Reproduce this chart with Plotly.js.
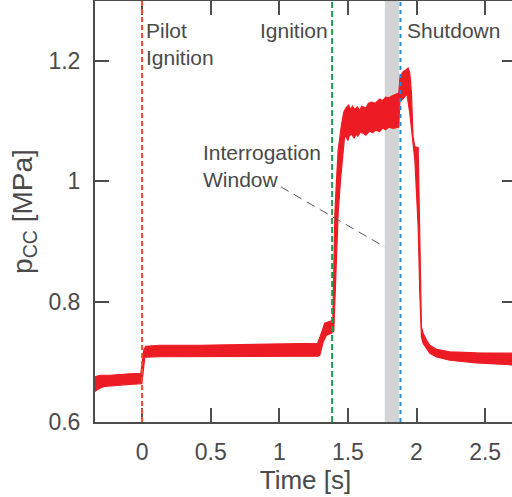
<!DOCTYPE html>
<html>
<head>
<meta charset="utf-8">
<script src="https://cdn.plot.ly/plotly-3.0.1.min.js"></script>
<style>
html, body { margin: 0; padding: 0; overflow: hidden; background: #fff; }
#chart { width: 520px; height: 497px; }
</style>
</head>
<body>
<div id="chart"></div>
<script>
// Upper envelope of the noisy chamber-pressure record (time [s], p_CC [MPa])
const tUpper = [-0.35, -0.308, -0.235, -0.162, -0.090, -0.009, 0.012, 0.027, 0.129, 0.420, 0.712, 1.003, 1.280,
  1.309, 1.331, 1.390, 1.405, 1.417, 1.429, 1.453, 1.470, 1.485, 1.505, 1.520, 1.533, 1.550, 1.570, 1.586, 1.600,
  1.631, 1.650, 1.674, 1.700, 1.732, 1.750, 1.776, 1.800, 1.820, 1.845,
  1.871, 1.879, 1.900, 1.922, 1.939, 1.951, 1.963, 1.975, 1.988, 2.012, 2.024, 2.036, 2.048, 2.073, 2.097, 2.146,
  2.243, 2.437, 2.75];
const pUpper = [0.6744, 0.6777, 0.6777, 0.6794, 0.6802, 0.6810, 0.7193, 0.7260, 0.7276, 0.7276, 0.7285, 0.7293, 0.7309,
  0.7493, 0.7642, 0.7692, 0.9472, 1.0022, 1.0521, 1.0937, 1.1153, 1.1220, 1.1270, 1.1190, 1.1253, 1.1200, 1.1240, 1.1180, 1.1250,
  1.1220, 1.1300, 1.1319, 1.1300, 1.1369, 1.1340, 1.1403, 1.1390, 1.1419, 1.1440,
  1.1469, 1.1735, 1.1819, 1.1852, 1.1885, 1.1802, 1.1469, 1.0742, 1.0576, 1.0566, 0.9245, 0.7581, 0.7476, 0.7359, 0.7276, 0.7210,
  0.7168, 0.7151, 0.7143];

// Lower envelope
const tLower = [-0.35, -0.323, -0.272, -0.199, -0.090, -0.002, 0.020, 0.129, 0.420, 0.712, 1.003, 1.280, 1.295, 1.319,
  1.344, 1.380, 1.397, 1.417, 1.429, 1.446, 1.465, 1.477, 1.492, 1.500, 1.510, 1.528, 1.545, 1.560, 1.572, 1.590,
  1.609, 1.630, 1.660, 1.680, 1.703, 1.730, 1.754, 1.775, 1.798, 1.830,
  1.871, 1.879, 1.893, 1.915, 1.930, 1.951, 1.963, 1.975, 1.988, 2.000, 2.012, 2.024, 2.031, 2.036, 2.048, 2.097,
  2.146, 2.243, 2.437, 2.75];
const pLower = [0.6494, 0.6544, 0.6594, 0.6611, 0.6627, 0.6636, 0.7077, 0.7085, 0.7085, 0.7093, 0.7093, 0.7093, 0.7110, 0.7326,
  0.7443, 0.7476, 0.7509, 0.8774, 0.9472, 1.0022, 1.0571, 1.0770, 1.0720, 1.0680, 1.0760, 1.0787, 1.0720, 1.0790, 1.0754, 1.0820,
  1.0804, 1.0770, 1.0837, 1.0810, 1.0854, 1.0830, 1.0887, 1.0860, 1.0903, 1.0880,
  1.0903, 1.1353, 1.1353, 1.1403, 1.1453, 1.1136, 1.0908, 1.0637, 1.0354, 0.9805, 0.9245, 0.8141, 0.7581, 0.7414, 0.7309, 0.7143,
  0.7082, 0.7027, 0.6982, 0.6943];

// Events [s]
const eventNames = ["Pilot<br>Ignition", "Ignition", "Shutdown"];
const eventTimes = [0, 1.385, 1.883];
const eventColors = ["rgb(250,78,52)", "rgb(28,158,78)", "rgb(30,142,212)"];
const eventDash = ["5px,3px", "6px,3px", "4px,4px"];
const windowRange = [1.769, 1.873];

const xTickVals = [0, 0.5, 1, 1.5, 2, 2.5];
const xTickText = ["0", "0.5", "1", "1.5", "2", "2.5"];
const yTickVals = [0.6, 0.8, 1, 1.2];
const yTickText = ["0.6", "0.8", "1", "1.2"];

const RED = "rgb(237,28,36)";
const TXT = "#4a4a4a";
const AX = "#4d4d4d";
const FONT = "Liberation Sans, Arial, Helvetica, sans-serif";

const traces = [
  { x: tUpper, y: pUpper, mode: "lines", line: { color: RED, width: 1.2 }, hoverinfo: "skip", showlegend: false },
  { x: tLower, y: pLower, mode: "lines", fill: "tonexty", fillcolor: RED, line: { color: RED, width: 1.2 }, hoverinfo: "skip", showlegend: false }
];

const shapes = [
  { type: "rect", xref: "x", yref: "paper", x0: windowRange[0], x1: windowRange[1], y0: 0, y1: 1,
    fillcolor: "rgb(211,212,214)", line: { width: 0 }, layer: "below" }
];
eventTimes.forEach((t, i) => {
  shapes.push({ type: "line", xref: "x", yref: "paper", x0: t, x1: t, y0: 0, y1: 1,
    line: { color: eventColors[i], width: 2, dash: eventDash[i] }, layer: "above" });
});
// leader line from label to interrogation window
shapes.push({ type: "line", xref: "x", yref: "y", x0: 1.011, y0: 0.991, x1: windowRange[0], y1: 0.891,
  line: { color: "#555555", width: 1, dash: "9px,6px" }, layer: "above" });

const annFont = { family: FONT, size: 21, color: TXT };
const annotations = [
  { xref: "x", yref: "paper", x: eventTimes[0] + 0.012, y: 0.962, xanchor: "left", yanchor: "top", align: "left",
    text: eventNames[0], showarrow: false, font: annFont },
  { xref: "x", yref: "paper", x: eventTimes[1] - 0.015, y: 0.962, xanchor: "right", yanchor: "top", align: "right",
    text: eventNames[1], showarrow: false, font: annFont },
  { xref: "x", yref: "paper", x: eventTimes[2] + 0.035, y: 0.962, xanchor: "left", yanchor: "top", align: "left",
    text: eventNames[2], showarrow: false, font: annFont },
  { xref: "x", yref: "paper", x: 0.43, y: 0.672, xanchor: "left", yanchor: "top", align: "left",
    text: "Interrogation<br>Window", showarrow: false, font: annFont }
];

const layout = {
  width: 520, height: 497,
  margin: { l: 95, r: 4, t: 1, b: 75 },
  paper_bgcolor: "#ffffff", plot_bgcolor: "#ffffff",
  font: { family: FONT, color: TXT },
  showlegend: false,
  xaxis: {
    range: [-0.343, 2.725], tickvals: xTickVals, ticktext: xTickText,
    ticks: "inside", ticklen: 14, tickwidth: 2, tickcolor: AX,
    showline: true, linecolor: AX, linewidth: 2, mirror: "ticks",
    showgrid: false, zeroline: false,
    tickfont: { family: FONT, size: 23, color: TXT }, ticklabelstandoff: 8,
    title: { text: "Time [s]", font: { family: FONT, size: 26, color: TXT }, standoff: 6 }
  },
  yaxis: {
    range: [0.6, 1.3], tickvals: yTickVals, ticktext: yTickText,
    ticks: "inside", ticklen: 14, tickwidth: 2, tickcolor: AX,
    showline: true, linecolor: AX, linewidth: 2, mirror: "ticks",
    showgrid: false, zeroline: false,
    tickfont: { family: FONT, size: 23, color: TXT }, ticklabelstandoff: 8,
    title: { text: "p<sub>CC</sub> [MPa]", font: { family: FONT, size: 28, color: TXT }, standoff: 8 }
  },
  shapes: shapes,
  annotations: annotations
};

Plotly.newPlot("chart", traces, layout, { displayModeBar: false, staticPlot: true });
</script>
</body>
</html>
